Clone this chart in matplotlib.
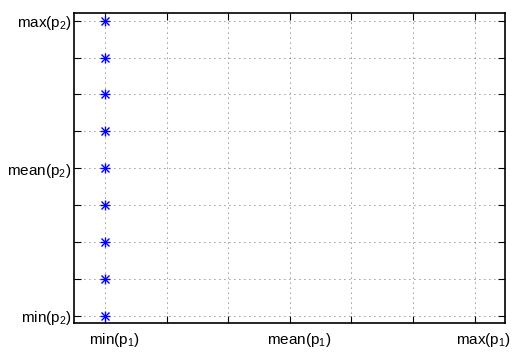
import matplotlib
matplotlib.use("Agg")
import matplotlib.pyplot as plt
import matplotlib.transforms as mtransforms

# Data (normalized units: 0 = min, 3 = mean, 6 = max for p1; 0 = min, 4 = mean, 8 = max for p2)
x_vals = [0, 0, 0, 0, 0, 0, 0, 0, 0]
y_vals = [0, 1, 2, 3, 4, 5, 6, 7, 8]
x_ticks = [0, 1, 2, 3, 4, 5, 6]
x_ticklabels = [r'min(p$_1$)', '', '', r'mean(p$_1$)', '', '', r'max(p$_1$)']
y_ticks = [0, 1, 2, 3, 4, 5, 6, 7, 8]
y_ticklabels = [r'min(p$_2$)', '', '', '', r'mean(p$_2$)', '', '', '', r'max(p$_2$)']

plt.rcParams['font.family'] = ['Liberation Sans', 'DejaVu Sans']
plt.rcParams['mathtext.fontset'] = 'custom'
plt.rcParams['mathtext.rm'] = 'Liberation Sans'
plt.rcParams['mathtext.it'] = 'Liberation Sans'
plt.rcParams['mathtext.default'] = 'regular'

fig = plt.figure(figsize=(5.15, 3.56), dpi=100)
ax = fig.add_axes([74.3 / 515, 1 - 323 / 356, (505.5 - 74.3) / 515, (323 - 13.3) / 356])

for mk in ['+', 'x']:
    ax.plot(x_vals, y_vals, linestyle='none', marker=mk, color=(0, 0, 1),
            markersize=7 if mk == '+' else 5.5, markeredgewidth=1.0, zorder=3, clip_on=False)

ax.set_xlim(-0.5, 6.5)
ax.set_ylim(-0.2, 8.2)
ax.set_xticks(x_ticks)
ax.set_xticklabels(x_ticklabels, fontsize=11)
ax.set_yticks(y_ticks)
ax.set_yticklabels(y_ticklabels, fontsize=11)

ax.tick_params(direction='in', length=5, width=0.8, top=True, right=True,
               pad=2, colors='black')
ax.tick_params(axis='x', pad=6)
ax.grid(True, linestyle=(0, (1, 5)), color='#333333', linewidth=0.6)
for s in ax.spines.values():
    s.set_linewidth(1.2)
    s.set_color('black')

offset = mtransforms.ScaledTranslation(9 / 100, 0, fig.dpi_scale_trans)
for lbl in ax.get_xticklabels():
    lbl.set_transform(lbl.get_transform() + offset)

fig.savefig('out.png', dpi=100)
